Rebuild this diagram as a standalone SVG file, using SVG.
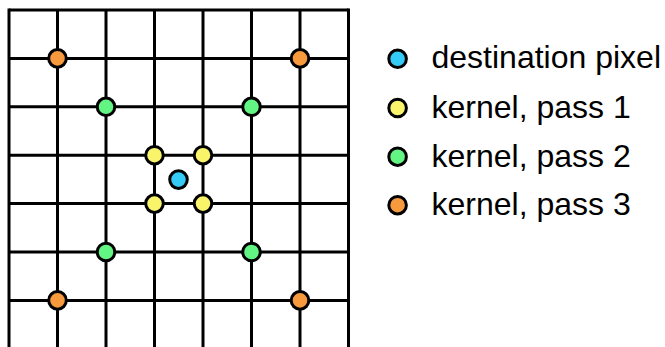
<svg xmlns="http://www.w3.org/2000/svg" width="665" height="347" viewBox="0 0 665 347">
<style>
.g{stroke:#000;stroke-width:3;fill:none}
.d{stroke:#000;stroke-width:3}
.o{fill:#f79a3e}.gr{fill:#63f584}.y{fill:#f9f46a}.b{fill:#34cbf6}
.t{font-family:"Liberation Sans",Arial,sans-serif;font-size:32px;fill:#000}
</style>
<rect width="665" height="347" fill="#fff"/>
<g id="grid" class="g">
<path d="M9 10H348.5M9 58.4H348.5M9 106.8H348.5M9 155.2H348.5M9 203.6H348.5M9 252H348.5M9 300.4H348.5"/>
<path d="M9 8.5V347M57.5 10V347M106 10V347M154.5 10V347M203 10V347M251.5 10V347M300 10V347M348.5 8.5V347"/>
</g>
<g id="pass3" class="d o">
<circle cx="57.5" cy="58.4" r="8.8"/><circle cx="300" cy="58.4" r="8.8"/>
<circle cx="57.5" cy="300.4" r="8.8"/><circle cx="300" cy="300.4" r="8.8"/>
</g>
<g id="pass2" class="d gr">
<circle cx="106" cy="106.8" r="8.8"/><circle cx="251.5" cy="106.8" r="8.8"/>
<circle cx="106" cy="252" r="8.8"/><circle cx="251.5" cy="252" r="8.8"/>
</g>
<g id="pass1" class="d y">
<circle cx="154.5" cy="155.2" r="8.8"/><circle cx="203" cy="155.2" r="8.8"/>
<circle cx="154.5" cy="203.6" r="8.8"/><circle cx="203" cy="203.6" r="8.8"/>
</g>
<g id="dest" class="d b"><circle cx="178.5" cy="179.6" r="8.8"/></g>
<g id="legend">
<circle class="d b" cx="397.6" cy="58.8" r="8.8"/>
<text class="t" x="431.5" y="68">destination pixel</text>
<circle class="d y" cx="397.6" cy="108" r="8.8"/>
<text class="t" x="431.5" y="117.7">kernel, pass 1</text>
<circle class="d gr" cx="397.6" cy="156.7" r="8.8"/>
<text class="t" x="431.5" y="166.5">kernel, pass 2</text>
<circle class="d o" cx="397.6" cy="205.2" r="8.8"/>
<text class="t" x="431.5" y="215">kernel, pass 3</text>
</g>
</svg>
